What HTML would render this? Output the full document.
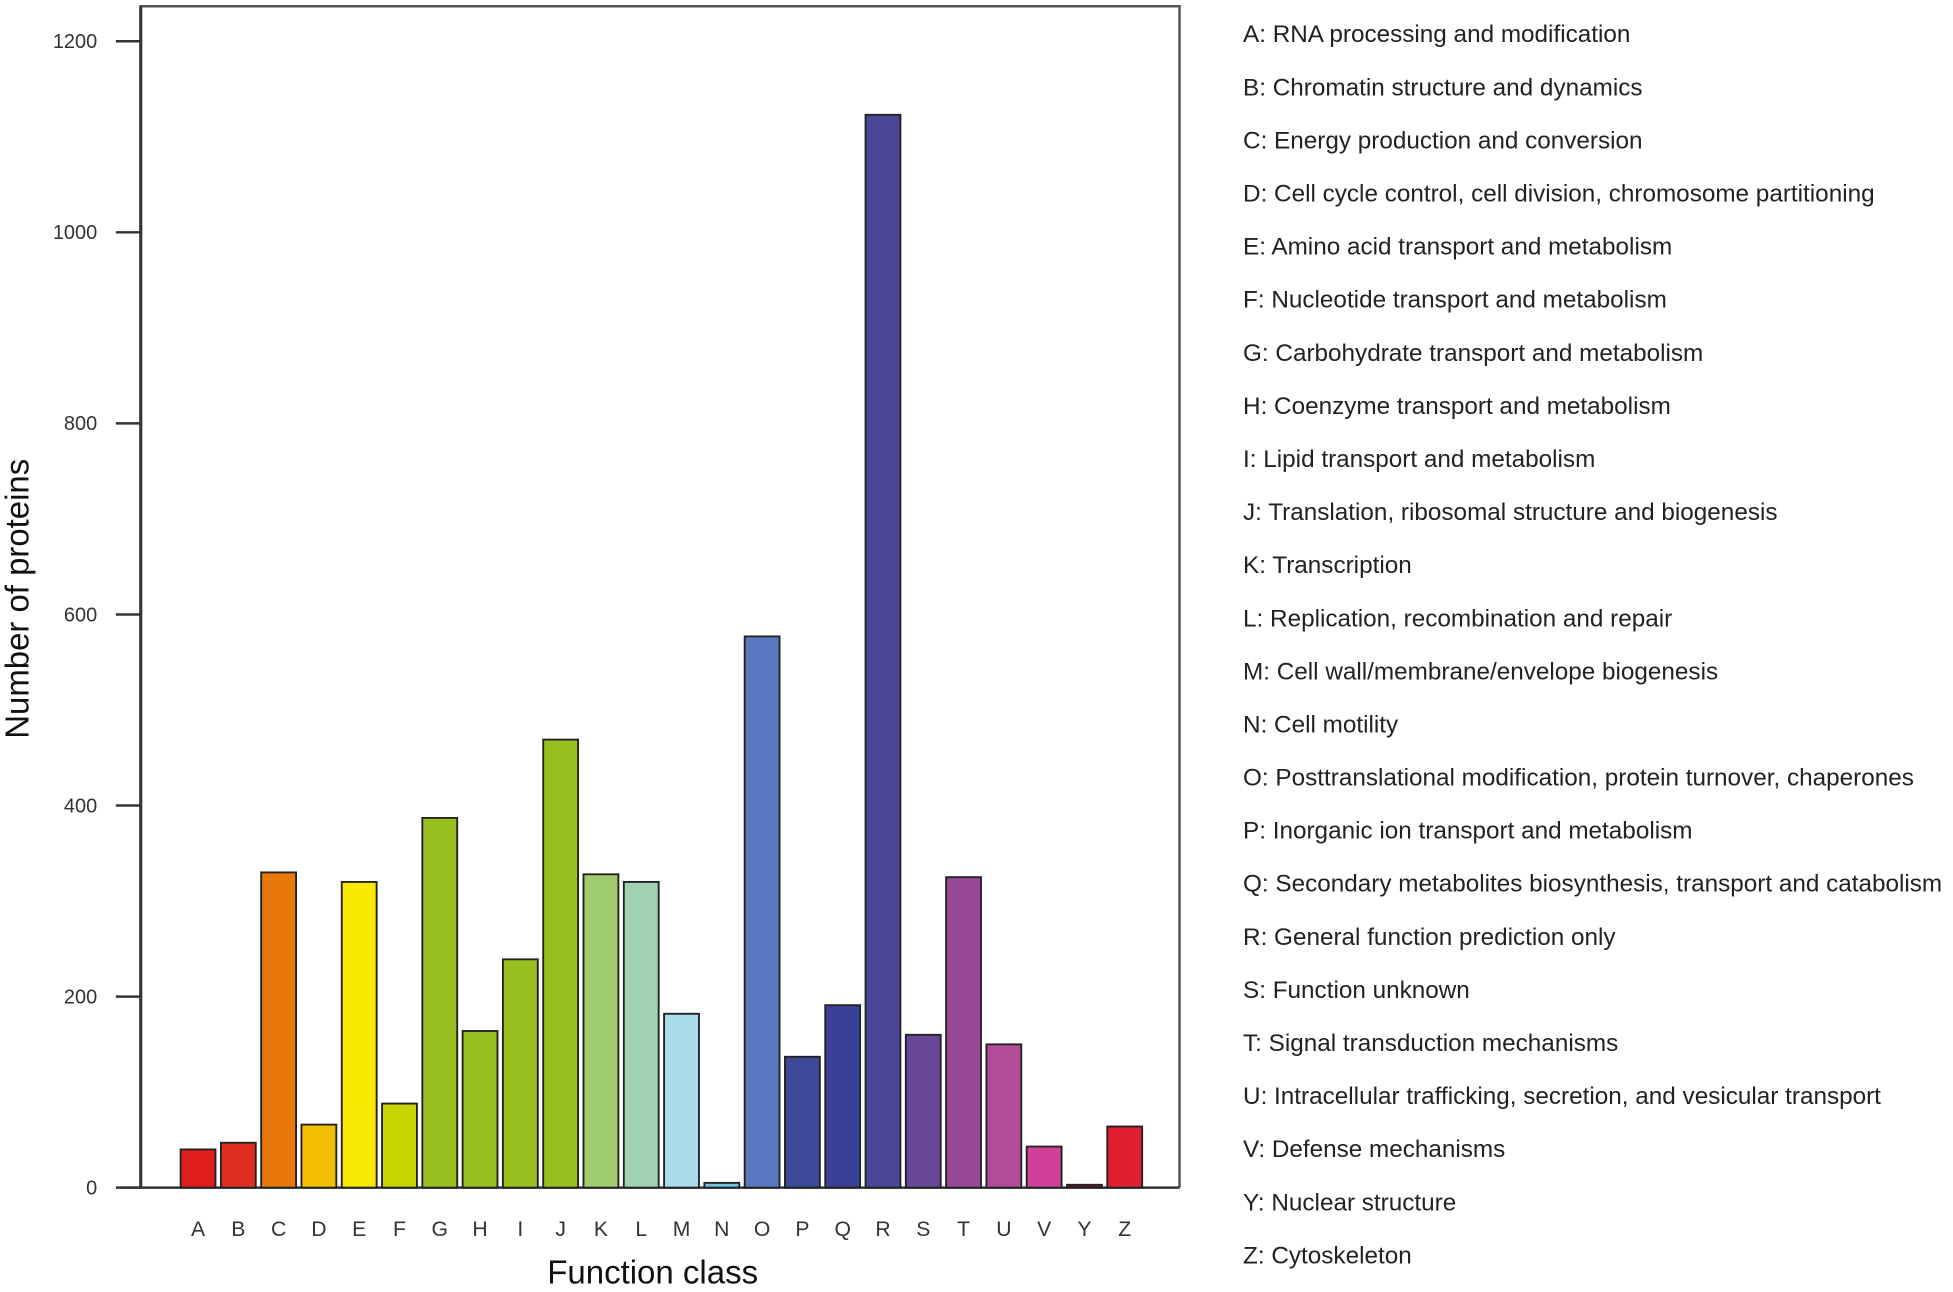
<!DOCTYPE html>
<html><head><meta charset="utf-8"><style>
html,body{margin:0;padding:0;background:#fff;}
svg{display:block;font-family:"Liberation Sans",sans-serif;}
</style></head><body>
<svg id="chart" width="1953" height="1292" viewBox="0 0 1568 1040" preserveAspectRatio="none" xmlns="http://www.w3.org/2000/svg">
<rect x="0" y="0" width="1568" height="1040" fill="#fff"/>
<g id="plot"></g>
<text x="0" y="0" transform="translate(23,482) rotate(-90)" text-anchor="middle" font-size="26.5" fill="#111">Number of proteins</text>
<text x="524" y="1033" text-anchor="middle" font-size="26.5" fill="#111">Function class</text>
<g id="legend"></g>
</svg>
<script>
const categories = ["A","B","C","D","E","F","G","H","I","J","K","L","M","N","O","P","Q","R","S","T","U","V","Y","Z"];
const counts = [40,47,330,66,320,88,387,164,239,469,328,320,182,5,577,137,191,1123,160,325,150,43,3,64];
const colors = ["#e01e1e","#e02e22","#e8780a","#f2c000","#f8e800","#c8d400","#98c020","#98c020","#98c020","#98c020","#a0cc70","#a0d2b0","#a8dce8","#70c0e0","#5878c0","#3c4a98","#3a4098","#4a4698","#6a4898","#984898","#b04c98","#d04098","#701030","#e02030"];
const yTicks = [0,200,400,600,800,1000,1200];
const legendLabels = [
"A: RNA processing and modification","B: Chromatin structure and dynamics","C: Energy production and conversion",
"D: Cell cycle control, cell division, chromosome partitioning","E: Amino acid transport and metabolism",
"F: Nucleotide transport and metabolism","G: Carbohydrate transport and metabolism","H: Coenzyme transport and metabolism",
"I: Lipid transport and metabolism","J: Translation, ribosomal structure and biogenesis","K: Transcription",
"L: Replication, recombination and repair","M: Cell wall/membrane/envelope biogenesis","N: Cell motility",
"O: Posttranslational modification, protein turnover, chaperones","P: Inorganic ion transport and metabolism",
"Q: Secondary metabolites biosynthesis, transport and catabolism","R: General function prediction only",
"S: Function unknown","T: Signal transduction mechanisms","U: Intracellular trafficking, secretion, and vesicular transport",
"V: Defense mechanisms","Y: Nuclear structure","Z: Cytoskeleton"];

const NS="http://www.w3.org/2000/svg";
const plot=document.getElementById('plot');
const legend=document.getElementById('legend');
const y0=956, pxPerUnit=153.8/200;
function yScale(v){return y0-v*pxPerUnit;}
const pitch=(889-145)/23, bw=28;
function xScale(i){return 145+i*pitch;}
function mk(tag,attrs,parent){const e=document.createElementNS(NS,tag);for(const k in attrs)e.setAttribute(k,attrs[k]);parent.appendChild(e);return e;}

const frame=mk('path',{d:"M113,956 L113,5 L947,5 L947,956",fill:"none",stroke:"#555",'stroke-width':2},plot);


const yaxis=mk('line',{x1:113,y1:5,x2:113,y2:y0,stroke:"#333",'stroke-width':2.5},plot);


const base=mk('line',{x1:97,y1:y0,x2:947,y2:y0,stroke:"#333",'stroke-width':2},plot);



yTicks.forEach(v=>{
  const y=yScale(v);
  const t=mk('line',{x1:93,y1:y,x2:113,y2:y,stroke:"#333",'stroke-width':2},plot);
  
  
  const l=mk('text',{x:78,y:y+5.5,'text-anchor':'end','font-size':16,fill:'#333'},plot);
  l.textContent=v;
  
  
});

categories.forEach((c,i)=>{
  const x=xScale(i), top=yScale(counts[i]);
  const r=mk('rect',{x:x,y:top,width:bw,height:y0-top,fill:colors[i],stroke:'#222','stroke-width':1.5},plot);
  
  
  const l=mk('text',{x:x+bw/2,y:995,'text-anchor':'middle','font-size':17,fill:'#333'},plot);
  l.textContent=c;
  
  
});

legendLabels.forEach((s,i)=>{
  const t=mk('text',{x:998,y:34+i*(1011-28)/23,'font-size':19.5,fill:'#222'},legend);
  t.textContent=s;
  
  
});
</script>
</body></html>
